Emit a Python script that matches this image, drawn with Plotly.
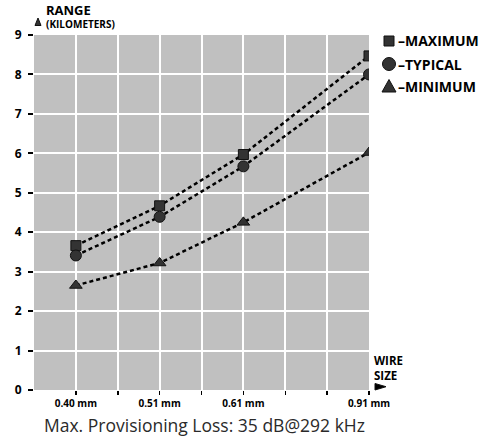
import plotly.graph_objects as go

# ---- data ----
wire_sizes = ["0.40 mm", "0.51 mm", "0.61 mm", "0.91 mm"]
grid_pos = [1, 3, 5, 8]          # position of each wire size on the grid
range_max = [3.66, 4.67, 5.97, 8.47]
range_typ = [3.41, 4.39, 5.67, 8.00]
range_min = [2.65, 3.22, 4.25, 6.02]
y_ticks = list(range(0, 10))

# ---- layout geometry (pixels) ----
W, H = 490, 439
L, R, T, B = 34, 369, 35, 390


def PX(x):
    return (x - L) / (R - L)


def PY(y):
    return (B - y) / (B - T)


FONT = "Open Sans"
MARK = "#333333"
EDGE = "#111111"

fig = go.Figure()

series = [
    ("MAXIMUM", range_max, "square", 10),
    ("TYPICAL", range_typ, "circle", 11),
    ("MINIMUM", range_min, "triangle-up", 11),
]
for name, vals, sym, size in series:
    fig.add_trace(go.Scatter(
        x=grid_pos, y=vals, name=name, mode="lines+markers",
        line=dict(color="black", width=2.5, dash="4px,3px"),
        marker=dict(symbol=sym, size=size, color=MARK,
                    line=dict(color=EDGE, width=1)),
        showlegend=False, hoverinfo="skip",
    ))

xtext = [""] * 8
for s, p in zip(wire_sizes, grid_pos):
    xtext[p - 1] = s

fig.update_xaxes(
    range=[0, 8], tickvals=list(range(1, 9)), ticktext=xtext,
    showgrid=True, gridcolor="white", gridwidth=2,
    ticks="outside", ticklen=4, tickwidth=1.5, tickcolor="black",
    tickfont=dict(family=FONT, size=10, color="black", weight="bold"),
    zeroline=False, showline=False, fixedrange=True,
)
fig.update_yaxes(
    range=[0, 9], tickvals=y_ticks, ticktext=[str(v) for v in y_ticks],
    showgrid=True, gridcolor="white", gridwidth=2,
    ticks="outside", ticklen=5, tickwidth=2, tickcolor="black",
    tickfont=dict(family=FONT, size=12, color="black", weight="bold"),
    ticklabelstandoff=4,
    zeroline=False, showline=False, fixedrange=True,
)

ann = []
shapes = []


def text(x, y, s, size, xanchor="left", yanchor="middle", weight="bold", color="black"):
    ann.append(dict(x=PX(x), y=PY(y), xref="paper", yref="paper", text=s,
                    showarrow=False, xanchor=xanchor, yanchor=yanchor, align="left",
                    font=dict(family=FONT, size=size, color=color, weight=weight)))


def path(pts, color=MARK):
    d = "M " + " L ".join(f"{PX(x)},{PY(y)}" for x, y in pts) + " Z"
    shapes.append(dict(type="path", path=d, xref="paper", yref="paper",
                       fillcolor=color, line=dict(color=EDGE, width=1)))


# axis titles
text(44, 16, "<span style='font-size:13px'>RANGE</span><br>(KILOMETERS)", 10)
path([(35, 25.5), (41, 25.5), (38, 18)])
text(372, 368, "WIRE<br>SIZE", 11.5)
path([(375, 383.5), (375, 390), (386, 386.7)], color="black")

# legend
shapes.append(dict(type="rect", xref="paper", yref="paper",
                   x0=PX(384), x1=PX(394), y0=PY(46), y1=PY(36),
                   fillcolor=MARK, line=dict(color=EDGE, width=1)))
shapes.append(dict(type="circle", xref="paper", yref="paper",
                   x0=PX(382.5), x1=PX(395.5), y0=PY(70.5), y1=PY(57.5),
                   fillcolor=MARK, line=dict(color=EDGE, width=1)))
path([(382, 92), (396, 92), (389, 79.5)])
for (name, _, _, _), yy in zip(series, [41, 64, 86.5]):
    text(395.5, yy, "\u2013" + name, 14)

# caption
text(42, 425, "Max. Provisioning Loss: 35 dB@292 kHz", 17.5, weight="normal", color="#2a2a2a")

fig.update_layout(
    width=W, height=H,
    margin=dict(l=L, r=W - R, t=T, b=H - B, pad=0),
    plot_bgcolor="#c0c0c0", paper_bgcolor="white",
    annotations=ann, shapes=shapes, showlegend=False,
)

fig.write_html(
    "out.html",
    config={"displayModeBar": False, "staticPlot": True},
    post_script="document.body.style.margin='0';document.body.style.overflow='hidden';",
)
